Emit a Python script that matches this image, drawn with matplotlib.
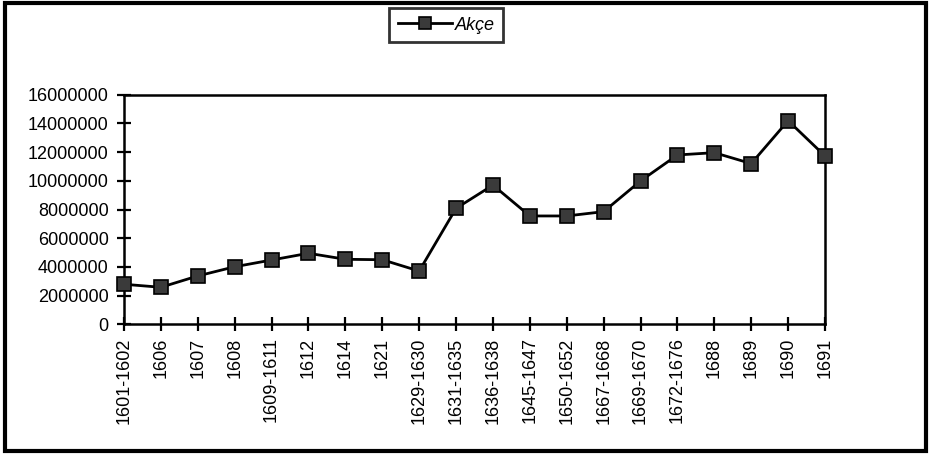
import matplotlib.pyplot as plt
from matplotlib.patches import Rectangle

plt.rcParams['font.family'] = ['Liberation Sans', 'DejaVu Sans']

# periods and akçe values
periods = ['1601-1602', '1606', '1607', '1608', '1609-1611', '1612', '1614', '1621',
           '1629-1630', '1631-1635', '1636-1638', '1645-1647', '1650-1652', '1667-1668',
           '1669-1670', '1672-1676', '1688', '1689', '1690', '1691']
akce = [2790000, 2580000, 3370000, 4010000, 4480000, 4950000, 4530000, 4500000,
        3710000, 8080000, 9700000, 7550000, 7550000, 7850000,
        9990000, 11800000, 11960000, 11200000, 14190000, 11730000]
yticks = list(range(0, 16000001, 2000000))

fig = plt.figure(figsize=(9.31, 4.59), dpi=100)
ax = fig.add_axes([124/931, 1 - 324.3/459, (825 - 124)/931, (324.3 - 94.7)/459])

x = list(range(len(periods)))
ax.plot(x, akce, color='black', linewidth=2, marker='s', markersize=9.5,
        markerfacecolor='#3a3a3a', markeredgecolor='black', markeredgewidth=1.2,
        label='Akçe', clip_on=False, zorder=5)

ax.set_xlim(0, len(periods) - 1)
ax.set_ylim(0, 16000000)
ax.set_yticks(yticks)
ax.set_yticklabels([str(v) for v in yticks], fontsize=13)
ax.set_xticks(x)
ax.set_xticklabels(periods, rotation=90, fontsize=13, va='top')
ax.tick_params(axis='both', direction='inout', length=10, width=1.6, color='black')
ax.tick_params(axis='x', pad=4.5)
ax.tick_params(axis='y', pad=6)
for s in ax.spines.values():
    s.set_linewidth(1.8)
    s.set_color('black')

leg = fig.legend(loc='center', bbox_to_anchor=(446/931, 1 - 25/459), frameon=True,
                 fancybox=False, prop={'style': 'italic', 'size': 13},
                 handlelength=3.0, borderpad=0.45, handletextpad=0.15,
                 borderaxespad=0, markerscale=0.85)
leg.get_frame().set_edgecolor('black')
leg.get_frame().set_linewidth(2)

# outer frame of the figure
fig.patches.append(Rectangle((5/931, 8/459), 921/931, 448/459, transform=fig.transFigure,
                             fill=False, edgecolor='black', linewidth=3))

fig.savefig('out.png', dpi=100)
